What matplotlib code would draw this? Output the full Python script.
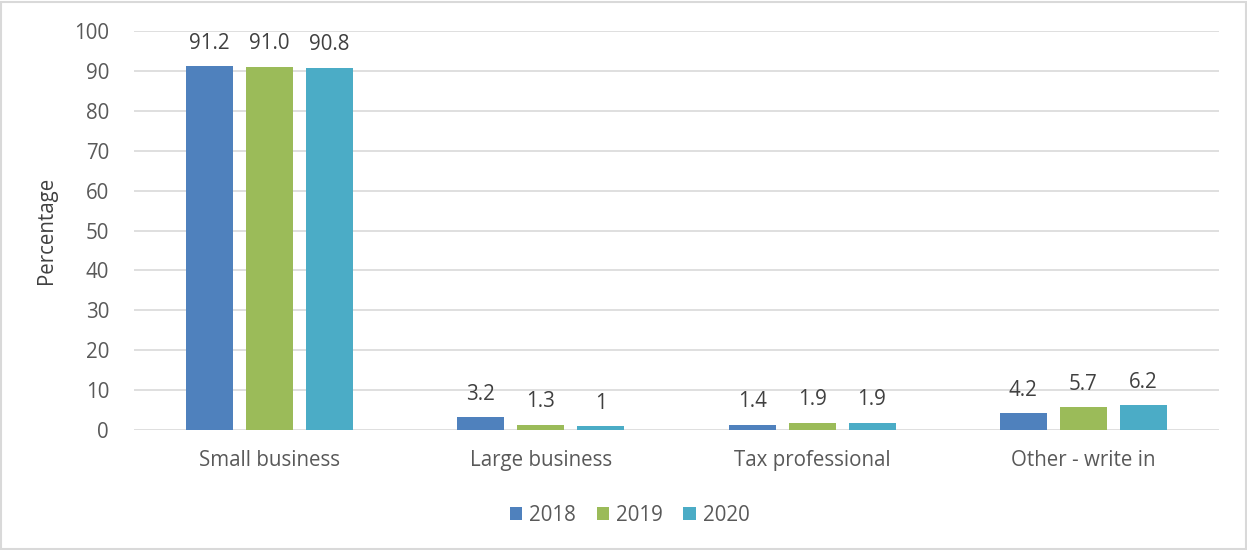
import matplotlib
matplotlib.use('Agg')
import matplotlib.pyplot as plt
import numpy as np

plt.rcParams['font.family'] = ['Open Sans', 'DejaVu Sans']

CATEGORIES = ['Small business', 'Large business', 'Tax professional', 'Other - write in']
YEARS = ['2018', '2019', '2020']
VALUES_2018 = [91.2, 3.2, 1.4, 4.2]
VALUES_2019 = [91.0, 1.3, 1.9, 5.7]
VALUES_2020 = [90.8, 1.0, 1.9, 6.2]
LABELS_2018 = ['91.2', '3.2', '1.4', '4.2']
LABELS_2019 = ['91.0', '1.3', '1.9', '5.7']
LABELS_2020 = ['90.8', '1', '1.9', '6.2']

COLORS = ['#4F81BD', '#9BBB59', '#4BACC6']
TEXT = '#595959'
FS = 14.8


def main():
    fig = plt.figure(figsize=(12.47, 5.5), dpi=100)
    ax = fig.add_axes([0.1075, 0.218, 0.87, 0.7256])

    x = np.arange(len(CATEGORIES))
    series = [VALUES_2018, VALUES_2019, VALUES_2020]
    labels = [LABELS_2018, LABELS_2019, LABELS_2020]
    width = 0.173
    pitch = 0.221
    for i, (vals, labs) in enumerate(zip(series, labels)):
        bars = ax.bar(x + (i - 1) * pitch, vals, width, color=COLORS[i],
                      label=YEARS[i], zorder=3)
        for b, lab in zip(bars, labs):
            ax.annotate(lab, (b.get_x() + b.get_width() / 2, b.get_height()),
                        xytext=(0, 9), textcoords='offset points',
                        ha='center', va='bottom', fontsize=FS, color='#404040')

    ax.set_xlim(-0.5, len(CATEGORIES) - 0.5)
    ax.set_ylim(0, 100)
    ax.set_yticks(range(0, 101, 10))
    ax.set_xticks(x)
    ax.set_xticklabels(CATEGORIES)
    ax.tick_params(axis='both', length=0, labelsize=FS, colors=TEXT)
    ax.tick_params(axis='x', pad=14)
    ax.tick_params(axis='y', pad=18)
    ax.yaxis.grid(True, color='#D9D9D9', linewidth=1.2, zorder=0)
    for s in ax.spines.values():
        s.set_visible(False)

    ax.set_ylabel('Percentage', fontsize=FS, color='#404040', labelpad=12)

    fig.legend(loc='lower center', bbox_to_anchor=(0.505, 0.01), ncol=3,
               frameon=False, fontsize=FS, handlelength=0.6, handleheight=0.6,
               handletextpad=0.35, columnspacing=1.0, labelcolor=TEXT)

    fig.patches.append(plt.Rectangle((0.001, 0.001), 0.998, 0.996, transform=fig.transFigure,
                                     fill=False, edgecolor='#D9D9D9', linewidth=1.5))

    fig.savefig('out.png', dpi=100)


if __name__ == '__main__':
    main()
